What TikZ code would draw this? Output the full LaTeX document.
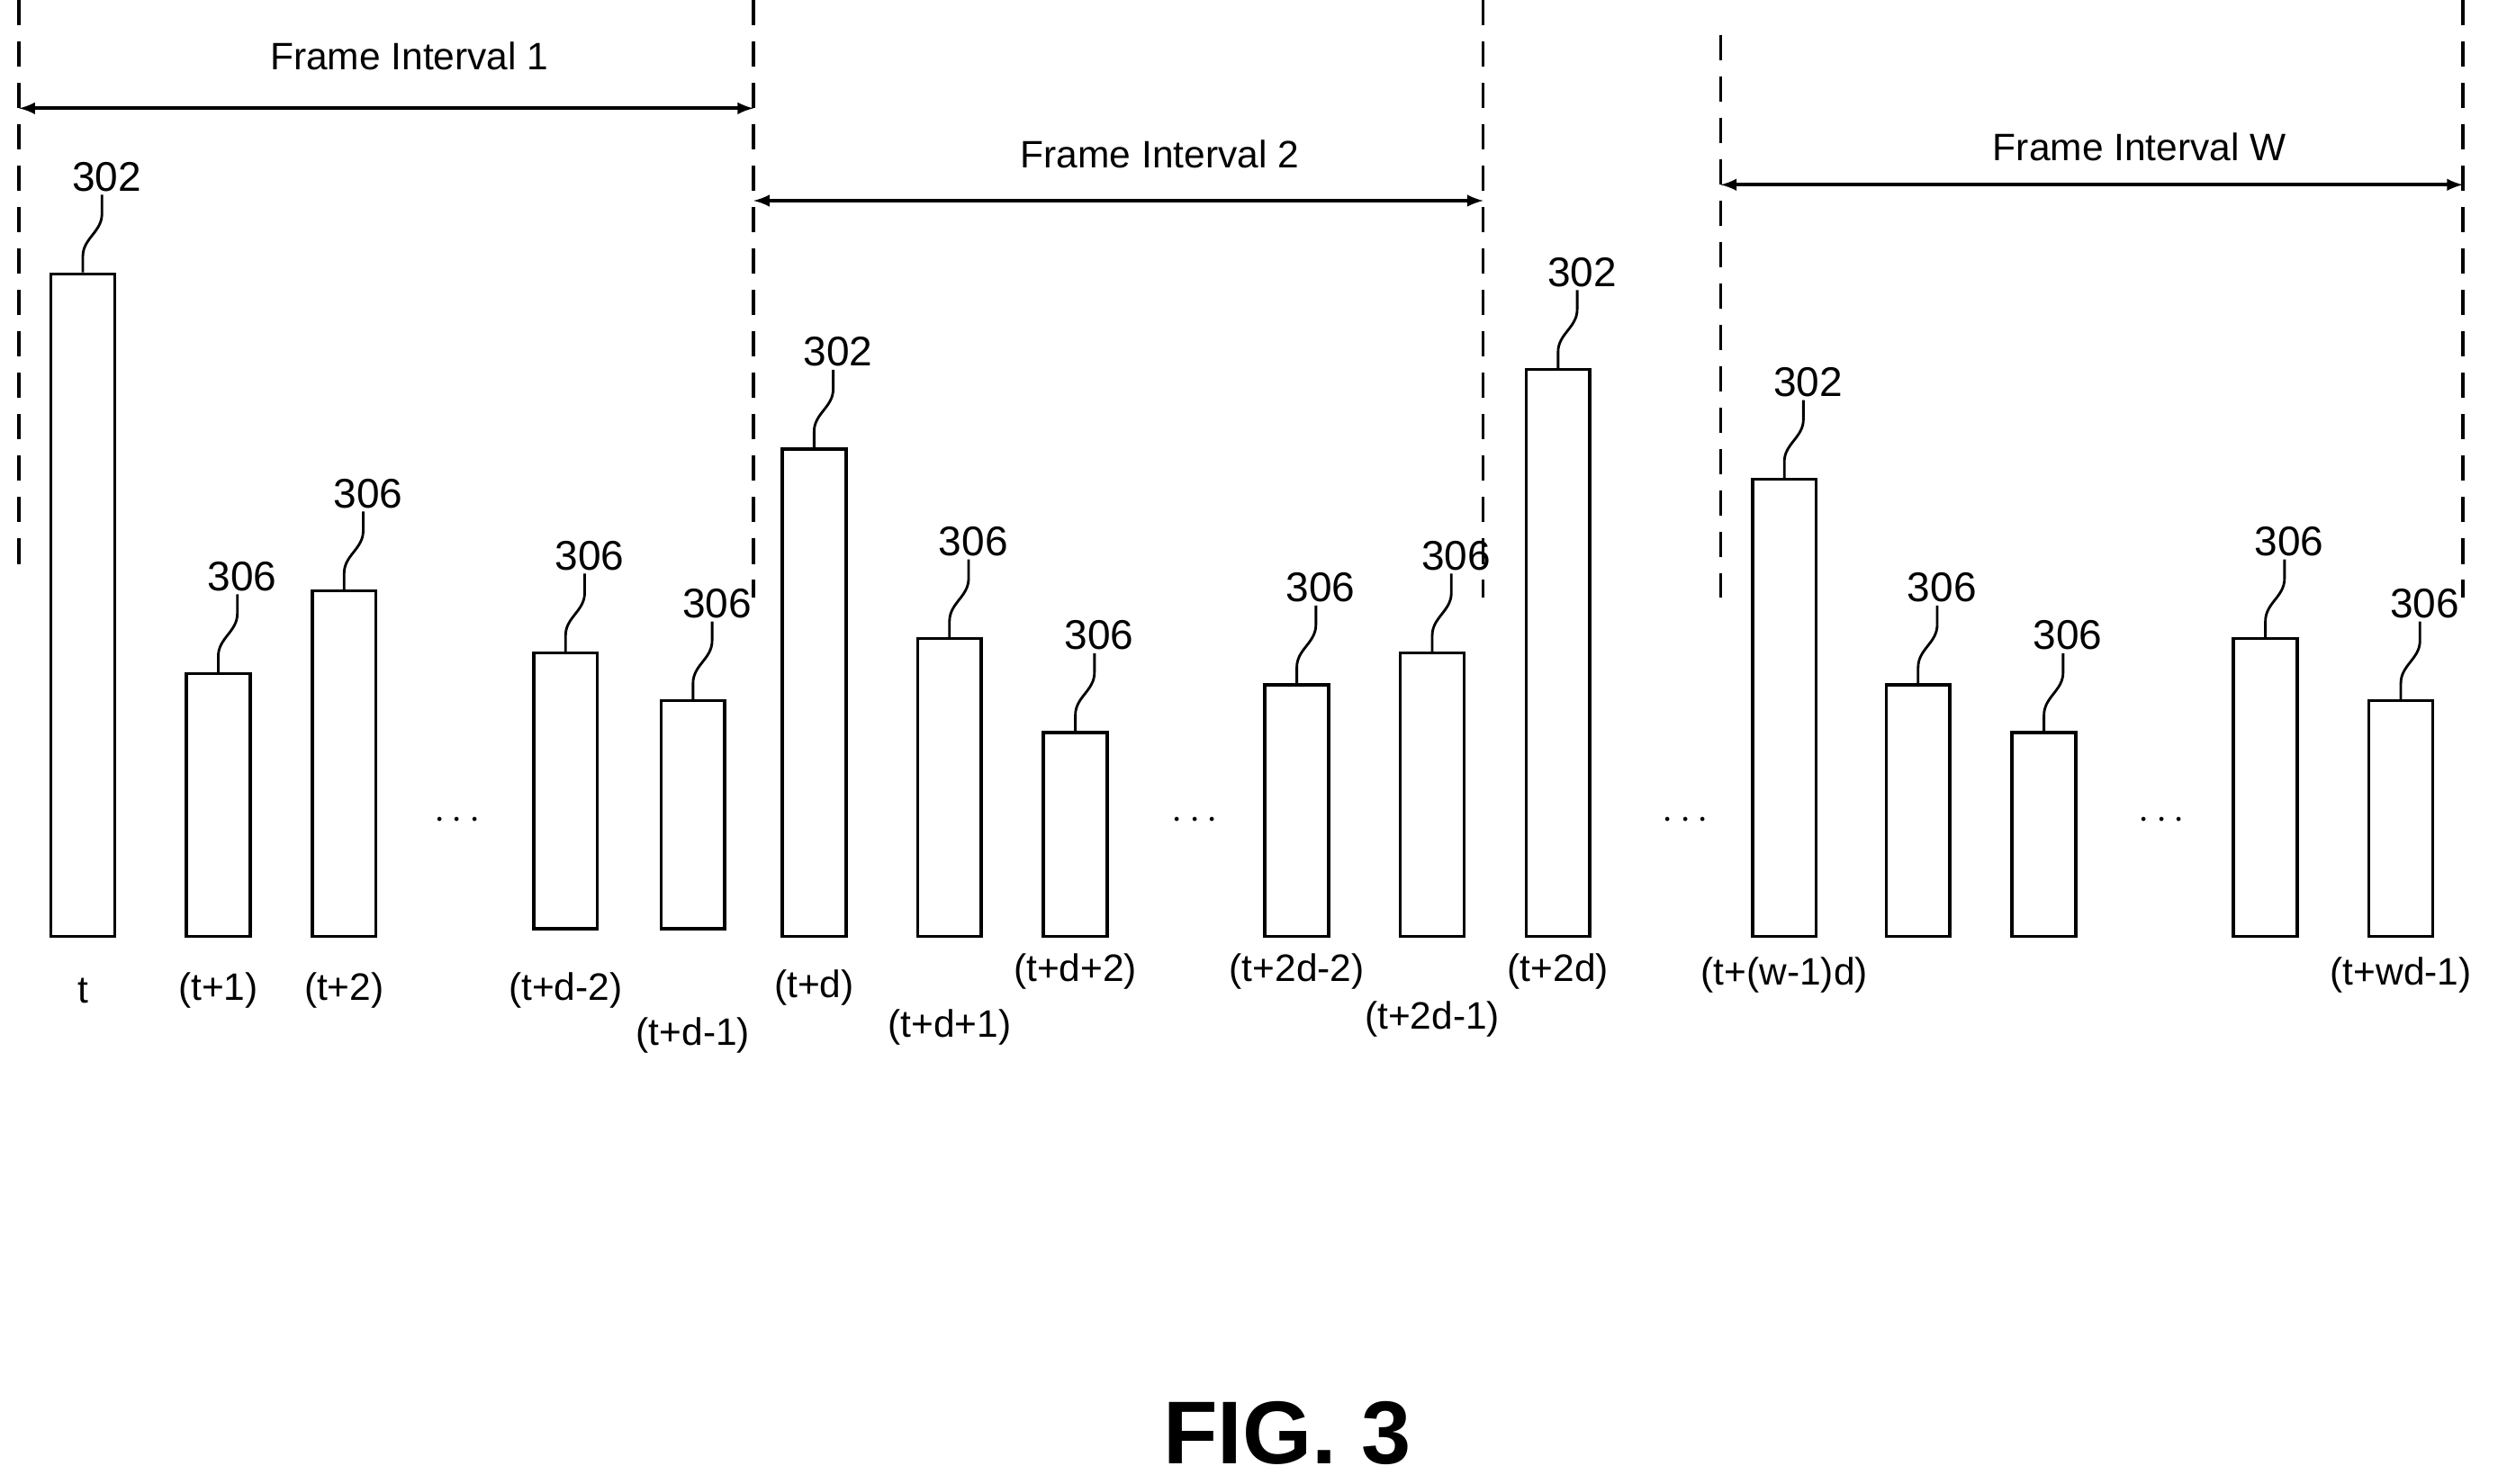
\documentclass[tikz,border=0pt]{standalone}
\usepackage{fontspec}
\setmainfont{Liberation Sans}
\usetikzlibrary{calc}

\begin{document}
\begin{tikzpicture}[x=1pt,y=-1pt,line width=2pt,
    frm/.style={draw,rectangle,minimum width=40pt,inner sep=0pt,anchor=south},
    num/.style={font=\fontsize{26}{30}\selectfont,inner sep=1pt},
    tick/.style={font=\fontsize{24}{28}\selectfont,inner sep=1pt},
    vline/.style={dashed,dash pattern=on 16pt off 10pt},
    span/.style={<->,>=latex,line width=2.4pt},]

  \useasboundingbox (0,0) rectangle (1568,931.2);

  % x, top, bottom, ref number, time label, label y
  \foreach \x/\t/\b/\n/\s/\ly [count=\i] in {
      52/173/589/302/t/622,
      137/424/589/306/(t+1)/622,
      216/372/589/306/(t+2)/622,
      355/411/584/306/(t+d-2)/622,
      435/441/584/306/(t+d-1)/650,
      511/283/589/302/(t+d)/620,
      596/402/589/306/(t+d+1)/645,
      675/461/589/306/(t+d+2)/610,
      814/431/589/306/(t+2d-2)/610,
      899/411/589/306/(t+2d-1)/640,
      978/233/589/302/(t+2d)/610,
      1120/302/589/302/(t+(w-1)d)/612,
      1204/431/589/306/{}/612,
      1283/461/589/306/{}/612,
      1422/402/589/306/{}/612,
      1507/441/589/306/(t+wd-1)/612}{
    \node[frm,minimum height=\b-\t] (f\i) at (\x,\b) {};
    \node[num] (r\i) at (\x+15,\t-62) {\n};
    \draw[line width=1.6pt] (f\i.north) -- ++(0,-10) to[out=90,in=-90] ($(r\i.south)+(-3,12)$) -- ($(r\i.south)+(-3,0)$);
    \node[tick] (s\i) at (\x,\ly) {\s};
  }

  % ellipses
  \foreach \x [count=\i] in {287,750,1058,1357}
    \node[font=\fontsize{40}{40}\selectfont\bfseries] (e\i) at (\x,515) {$\cdots$};

  % frame boundaries
  \coordinate (a1) at (12,0);   \coordinate (b1) at (12,360);
  \coordinate (a2) at (473,0);  \coordinate (b2) at (473,375);
  \coordinate (a3) at (931,0);  \coordinate (b3) at (931,375);
  \coordinate (a4) at (1080,22); \coordinate (b4) at (1080,375);
  \coordinate (a5) at (1546,0); \coordinate (b5) at (1546,375);
  \foreach \i in {1,...,5}
    \draw[vline] (a\i) -- (b\i);

  \coordinate (p1) at (12,68);   \coordinate (q1) at (473,68);
  \coordinate (p2) at (473,126); \coordinate (q2) at (931,126);
  \coordinate (p3) at (1080,116); \coordinate (q3) at (1546,116);
  \draw[span] (p1) -- (q1);
  \draw[span] (p2) -- (q2);
  \draw[span] (p3) -- (q3);
  \node[tick] (i1) at (257,35) {Frame Interval 1};
  \node[tick] (i2) at (728,97) {Frame Interval 2};
  \node[tick] (i3) at (1343,92) {Frame Interval W};

  \node[font=\fontsize{56}{60}\selectfont\bfseries] (fig) at (808,900) {FIG. 3};
\end{tikzpicture}
\end{document}
